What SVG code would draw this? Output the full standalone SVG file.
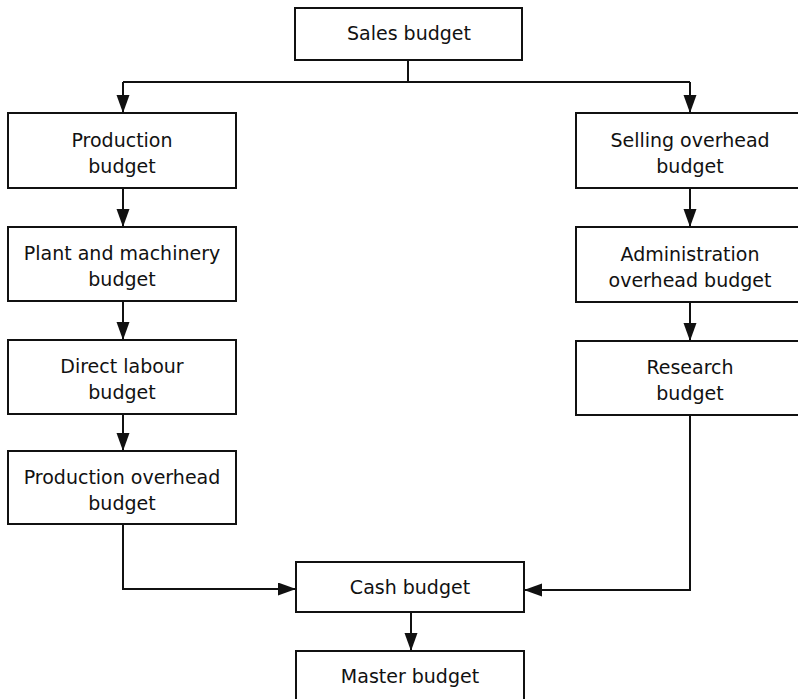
<svg xmlns="http://www.w3.org/2000/svg" width="798" height="699" viewBox="0 0 798 699">
  <style>
    .box { fill: #ffffff; stroke: #111111; stroke-width: 2; }
    .lbl { font-family: "DejaVu Sans", "Liberation Sans", sans-serif; font-size: 19px; fill: #111111; text-anchor: middle; }
    .wire { fill: none; stroke: #111111; stroke-width: 2; }
  </style>
  <defs>
    <marker id="arrow" markerUnits="userSpaceOnUse" markerWidth="20" markerHeight="14" refX="18" refY="6.5" orient="auto">
      <path d="M0,0 L18,6.5 L0,13 Z" fill="#111111"/>
    </marker>
  </defs>
  <rect width="798" height="699" fill="#ffffff"/>

  <g id="connectors">
    <path class="wire" d="M408,60 V82"/>
    <path class="wire" d="M123,82 H690"/>
    <path class="wire" d="M123,82 V113" marker-end="url(#arrow)"/>
    <path class="wire" d="M690,82 V113" marker-end="url(#arrow)"/>
    <path class="wire" d="M123,188 V227" marker-end="url(#arrow)"/>
    <path class="wire" d="M123,301 V340" marker-end="url(#arrow)"/>
    <path class="wire" d="M123,414 V451" marker-end="url(#arrow)"/>
    <path class="wire" d="M123,524 V589 H296" marker-end="url(#arrow)"/>
    <path class="wire" d="M690,188 V227" marker-end="url(#arrow)"/>
    <path class="wire" d="M690,302 V341" marker-end="url(#arrow)"/>
    <path class="wire" d="M690,415 V590 H524" marker-end="url(#arrow)"/>
    <path class="wire" d="M411,612 V651" marker-end="url(#arrow)"/>
  </g>

  <g id="sales">
    <rect class="box" x="295" y="8" width="227" height="52"/>
    <text class="lbl" x="409" y="40">Sales budget</text>
  </g>

  <g id="production">
    <rect class="box" x="8" y="113" width="228" height="75"/>
    <text class="lbl" x="122" y="147">Production</text>
    <text class="lbl" x="122" y="173">budget</text>
  </g>

  <g id="plant-machinery">
    <rect class="box" x="8" y="227" width="228" height="74"/>
    <text class="lbl" x="122" y="260">Plant and machinery</text>
    <text class="lbl" x="122" y="286">budget</text>
  </g>

  <g id="direct-labour">
    <rect class="box" x="8" y="340" width="228" height="74"/>
    <text class="lbl" x="122" y="373">Direct labour</text>
    <text class="lbl" x="122" y="399">budget</text>
  </g>

  <g id="production-overhead">
    <rect class="box" x="8" y="451" width="228" height="73"/>
    <text class="lbl" x="122" y="484">Production overhead</text>
    <text class="lbl" x="122" y="510">budget</text>
  </g>

  <g id="selling-overhead">
    <rect class="box" x="576" y="113" width="228" height="75"/>
    <text class="lbl" x="690" y="147">Selling overhead</text>
    <text class="lbl" x="690" y="173">budget</text>
  </g>

  <g id="administration-overhead">
    <rect class="box" x="576" y="227" width="228" height="75"/>
    <text class="lbl" x="690" y="261">Administration</text>
    <text class="lbl" x="690" y="287">overhead budget</text>
  </g>

  <g id="research">
    <rect class="box" x="576" y="341" width="228" height="74"/>
    <text class="lbl" x="690" y="374">Research</text>
    <text class="lbl" x="690" y="400">budget</text>
  </g>

  <g id="cash">
    <rect class="box" x="296" y="562" width="228" height="50"/>
    <text class="lbl" x="410" y="594">Cash budget</text>
  </g>

  <g id="master">
    <rect class="box" x="296" y="651" width="228" height="52"/>
    <text class="lbl" x="410" y="683">Master budget</text>
  </g>
</svg>
